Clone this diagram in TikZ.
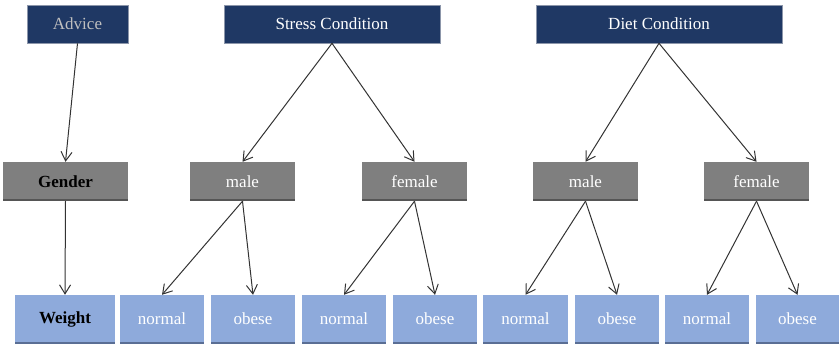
\documentclass[tikz,border=0pt]{standalone}
\usepackage{fontspec}
\setmainfont{Liberation Serif}
\usetikzlibrary{arrows.meta}
\definecolor{navy}{HTML}{1F3864}
\definecolor{navyedge}{HTML}{8C96AA}
\definecolor{midgray}{HTML}{7F7F7F}
\definecolor{darkgray}{HTML}{555555}
\definecolor{paleblue}{HTML}{8EAADB}
\definecolor{blueedge}{HTML}{5A6E94}
\definecolor{linegray}{HTML}{333333}
\tikzset{
  box/.style={rectangle,inner sep=0pt,font=\fontsize{17}{20}\selectfont},
  headbox/.style={box,fill=navy,draw=navyedge,line width=0.6pt,minimum height=38pt,text=white},
  groupbox/.style={box,fill=midgray,minimum height=39pt,text=white,
    path picture={\draw[line width=4pt,darkgray] (path picture bounding box.south west) -- (path picture bounding box.south east);}},
  leafbox/.style={box,fill=paleblue,minimum height=48pt,text=white,
    path picture={\draw[line width=2pt,blueedge] (path picture bounding box.south west) -- (path picture bounding box.south east);}},
  link/.style={draw=linegray,line width=1pt,-{Straight Barb[length=9pt,width=11pt,line width=1pt]}}
}
\begin{document}
\begin{tikzpicture}[x=1pt,y=-1pt]
\useasboundingbox (0,0) rectangle (840,344);
% top row
\node[headbox,minimum width=101pt,text=lightgray] (advice) at (77.5,24) {Advice};
\node[headbox,minimum width=216pt] (stress) at (332,24) {Stress Condition};
\node[headbox,minimum width=246pt] (diet) at (659,24) {Diet Condition};
% middle row
\node[groupbox,minimum width=125pt,text=black,font=\fontsize{17}{20}\selectfont\bfseries] (gender) at (65.5,181.5) {Gender};
\node[groupbox,minimum width=105pt] (smale) at (242.5,181.5) {male};
\node[groupbox,minimum width=105pt] (sfemale) at (414.5,181.5) {female};
\node[groupbox,minimum width=105pt] (dmale) at (585.5,181.5) {male};
\node[groupbox,minimum width=105pt] (dfemale) at (756.5,181.5) {female};
% bottom row
\node[leafbox,minimum width=100pt,text=black,font=\fontsize{17}{20}\selectfont\bfseries] (weight) at (65,319) {Weight};
\node[leafbox,minimum width=84pt] (smalenormal) at (162,319) {normal};
\node[leafbox,minimum width=84pt] (smaleobese) at (253,319) {obese};
\node[leafbox,minimum width=84pt] (sfemalenormal) at (344,319) {normal};
\node[leafbox,minimum width=84pt] (sfemaleobese) at (435,319) {obese};
\node[leafbox,minimum width=85pt] (dmalenormal) at (525.5,319) {normal};
\node[leafbox,minimum width=84pt] (dmaleobese) at (617,319) {obese};
\node[leafbox,minimum width=84pt] (dfemalenormal) at (707,319) {normal};
\node[leafbox,minimum width=83pt] (dfemaleobese) at (797.5,319) {obese};
% links
\draw[link] (advice.south) -- (gender.north);
\draw[link] (gender.south) -- (weight.north);
\foreach \c/\g in {stress/smale,stress/sfemale,diet/dmale,diet/dfemale}
  \draw[link] (\c.south) -- (\g.north);
\foreach \g in {smale,sfemale,dmale,dfemale} {
  \draw[link] (\g.south) -- (\g normal.north);
  \draw[link] (\g.south) -- (\g obese.north);
}
\end{tikzpicture}
\end{document}
